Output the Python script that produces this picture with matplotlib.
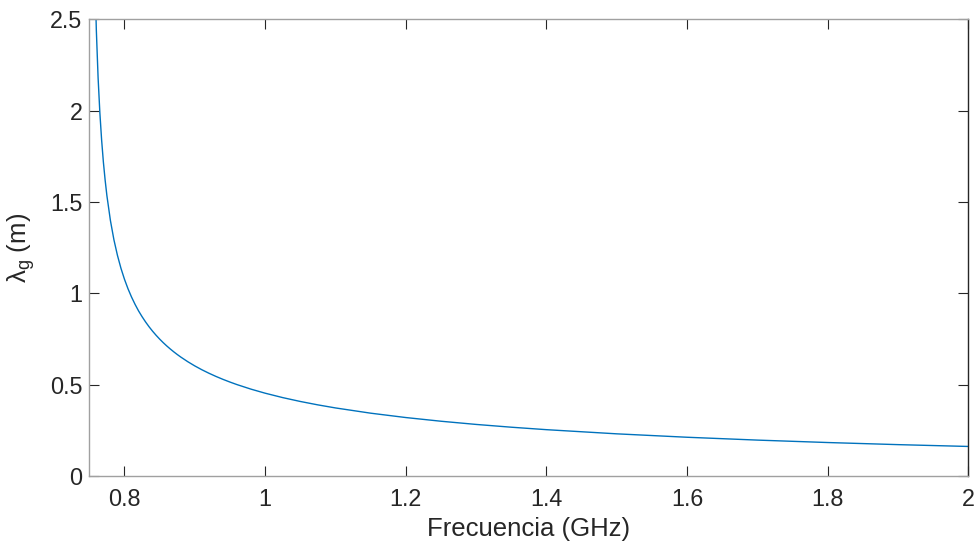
import matplotlib
matplotlib.use('Agg')
import matplotlib.pyplot as plt

plt.rcParams['font.family'] = ['Liberation Sans', 'DejaVu Sans']
plt.rcParams['mathtext.fontset'] = 'custom'
plt.rcParams['mathtext.rm'] = 'Liberation Sans'
plt.rcParams['mathtext.it'] = 'Liberation Sans:italic'

# frecuencia (GHz) y longitud de onda en guia (m)
freq = [0.755, 0.7575, 0.76, 0.7625, 0.765, 0.7675, 0.77, 0.7725, 0.775, 0.78,
        0.785, 0.79, 0.795, 0.80, 0.805, 0.81, 0.815, 0.82, 0.825, 0.83,
        0.835, 0.84, 0.845, 0.85, 0.855, 0.86, 0.865, 0.87, 0.875, 0.88,
        0.89, 0.90, 0.91, 0.92, 0.93, 0.94, 0.95, 0.96, 0.98, 1.00,
        1.025, 1.05, 1.075, 1.10, 1.15, 1.20, 1.25, 1.30, 1.35, 1.40,
        1.50, 1.60, 1.70, 1.80, 1.90, 2.00]
lambda_g = [3.456, 2.819, 2.440, 2.180, 1.989, 1.840, 1.719, 1.620, 1.535, 1.399,
            1.293, 1.208, 1.137, 1.077, 1.0251, 0.980, 0.9400, 0.904, 0.8723, 0.8433,
            0.8168, 0.7925, 0.7702, 0.7495, 0.7303, 0.7124, 0.6957, 0.6800, 0.6652, 0.6513,
            0.6257, 0.6026, 0.5817, 0.5627, 0.5452, 0.5291, 0.5142, 0.5003, 0.4753, 0.4533,
            0.4291, 0.4080, 0.3893, 0.3726, 0.3439, 0.3200, 0.2998, 0.2823, 0.2671, 0.2536,
            0.2308, 0.2121, 0.1965, 0.1832, 0.1717, 0.1617]

xticks = [0.8, 1, 1.2, 1.4, 1.6, 1.8, 2]
yticks = [0, 0.5, 1, 1.5, 2, 2.5]

fig = plt.figure(figsize=(9.76, 5.47), dpi=100)
ax = fig.add_axes([0.0915, 0.1298, 0.9008, 0.8349])
ax.plot(freq, lambda_g, color='#0072BD', lw=1.0)

ax.set_xlim(0.75, 2)
ax.set_ylim(0, 2.5)
ax.set_xticks(xticks)
ax.set_xticklabels(['0.8', '1', '1.2', '1.4', '1.6', '1.8', '2'])
ax.set_yticks(yticks)
ax.set_yticklabels(['0', '0.5', '1', '1.5', '2', '2.5'])
ax.tick_params(direction='in', length=7, width=0.8, color='#262626',
               labelcolor='#262626', labelsize=16.8, top=True, right=True)
ax.tick_params(axis='x', pad=9)
ax.tick_params(axis='y', pad=5)
for s in ['left', 'bottom', 'top']:
    ax.spines[s].set_color('#a0a0a0')
    ax.spines[s].set_linewidth(1.0)
ax.spines['right'].set_color('#262626')
ax.spines['right'].set_linewidth(1.0)

ax.set_xlabel('Frecuencia (GHz)', fontsize=18.5, color='#262626', labelpad=4)
ax.set_ylabel(r'$\mathregular{\lambda_g}$ (m)', fontsize=18.5, color='#262626', labelpad=9)

fig.savefig('out.png', dpi=100)
